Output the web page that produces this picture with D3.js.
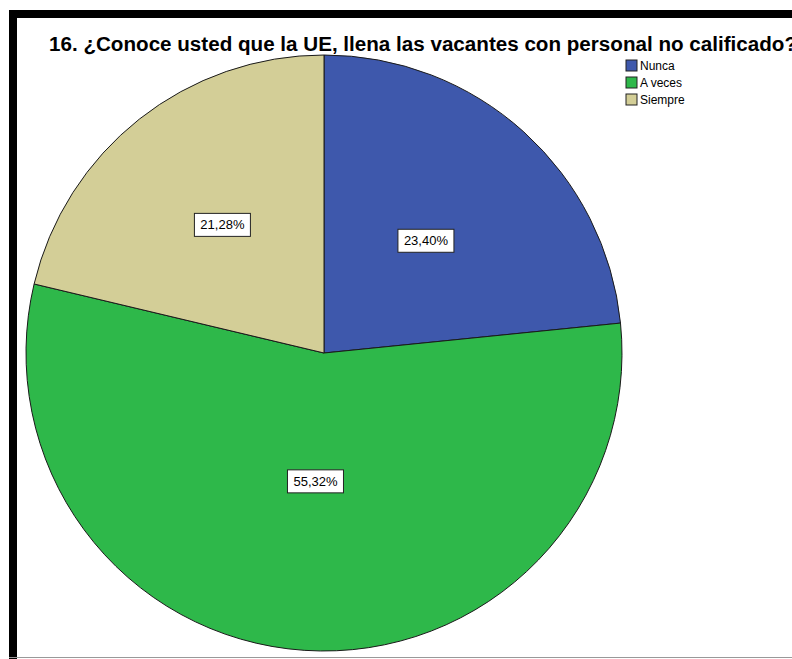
<!DOCTYPE html>
<html>
<head>
<meta charset="utf-8">
<script src="https://cdn.jsdelivr.net/npm/d3@7"></script>
<style>
  body { margin: 0; background: #fff; }
  svg { display: block; font-family: "Liberation Sans", Arial, sans-serif; }
</style>
</head>
<body>
<div id="chart"></div>
<script>
// data
var categories = ["Nunca", "A veces", "Siempre"];
var percents = [23.40, 55.32, 21.28];
var colors = ["#3e58ac", "#2eb84a", "#d3ce97"];
var title = "16. ¿Conoce usted que la UE, llena las vacantes con personal no calificado?";

// label distance from centre, as a share of the radius (layout only)
var labelRadius = [0.51, 0.43, 0.55];

var width = 792, height = 659;
var cx = 324, cy = 353, r = 298;

var svg = d3.select("#chart").append("svg")
  .attr("width", width)
  .attr("height", height);

svg.append("rect")
  .attr("x", 0).attr("y", 0)
  .attr("width", width).attr("height", height)
  .attr("fill", "#fff");

// frame: thick black on top/left, thin grey at bottom
svg.append("rect")
  .attr("x", 9).attr("y", 10)
  .attr("width", width).attr("height", 8)
  .attr("fill", "#000");
svg.append("rect")
  .attr("x", 9).attr("y", 10)
  .attr("width", 8).attr("height", height)
  .attr("fill", "#000");
svg.append("line")
  .attr("x1", 9).attr("x2", width)
  .attr("y1", 657.5).attr("y2", 657.5)
  .style("stroke", "#999");

svg.append("text")
  .attr("x", 49)
  .attr("y", 51)
  .attr("font-size", 20)
  .attr("font-weight", "bold")
  .attr("fill", "#000")
  .attr("textLength", 748)
  .attr("lengthAdjust", "spacingAndGlyphs")
  .text(title);

var data = categories.map(function(c, i) {
  return {name: c, value: percents[i], color: colors[i], lr: labelRadius[i]};
});

var pie = d3.pie()
  .sort(null)
  .value(function(d) { return d.value; });

var arc = d3.arc().innerRadius(0).outerRadius(r);

var g = svg.append("g").attr("transform", "translate(" + cx + "," + cy + ")");

g.selectAll("path.slice")
  .data(pie(data))
  .enter().append("path")
  .attr("class", "slice")
  .attr("d", arc)
  .attr("fill", function(d) { return d.data.color; })
  .style("stroke", "#1a1a1a")
  .style("stroke-width", 1);

var labels = g.selectAll("g.lbl")
  .data(pie(data))
  .enter().append("g")
  .attr("class", "lbl")
  .attr("transform", function(d) {
    var lr = r * d.data.lr;
    var c = d3.arc().innerRadius(lr).outerRadius(lr).centroid(d);
    return "translate(" + c[0] + "," + c[1] + ")";
  });

labels.append("rect")
  .attr("x", -28).attr("y", -11)
  .attr("width", 56).attr("height", 23)
  .attr("fill", "#fff")
  .style("stroke", "#222")
  .style("stroke-width", 1);

labels.append("text")
  .attr("text-anchor", "middle")
  .attr("dy", "0.38em")
  .attr("font-size", 13)
  .attr("fill", "#000")
  .text(function(d) { return d.data.value.toFixed(2).replace(".", ",") + "%"; });

// legend
var legend = svg.selectAll("g.leg")
  .data(data)
  .enter().append("g")
  .attr("class", "leg")
  .attr("transform", function(d, i) { return "translate(626," + (60 + i * 17) + ")"; });

legend.append("rect")
  .attr("width", 11).attr("height", 11)
  .attr("fill", function(d) { return d.color; })
  .style("stroke", "#222");

legend.append("text")
  .attr("x", 14).attr("y", 10)
  .attr("font-size", 12)
  .text(function(d) { return d.name; });
</script>
</body>
</html>
